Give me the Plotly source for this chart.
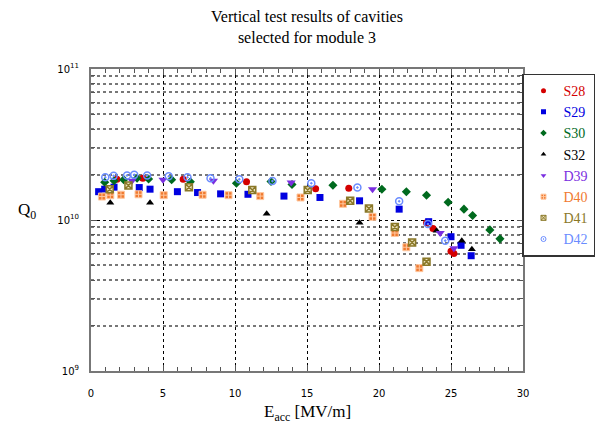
import plotly.graph_objects as go

# ---- data ----
S28_E = [1.8, 3.6, 6.4, 10.8, 15.6, 17.9, 23.3, 23.75, 25.0, 25.2]
S28_Q = [1.86e10, 1.89e10, 1.86e10, 1.79e10, 1.61e10, 1.62e10, 9.6e9, 8.8e9, 6.2e9, 6.0e9]

S29_E = [0.53, 0.95, 1.6, 3.35, 4.1, 6.0, 7.4, 9.0, 10.9, 13.4, 15.9, 18.65, 21.4, 23.45, 25.0, 25.7, 26.4]
S29_Q = [1.54e10, 1.60e10, 1.65e10, 1.64e10, 1.60e10, 1.54e10, 1.52e10, 1.49e10, 1.48e10, 1.44e10,
         1.41e10, 1.34e10, 1.18e10, 9.75e9, 7.75e9, 6.8e9, 5.8e9]

S30_E = [0.95, 1.6, 2.27, 3.2, 4.0, 5.6, 6.9, 10.1, 12.5, 13.96, 16.8, 20.2, 21.9, 23.3, 24.8, 25.9, 26.5, 27.7, 28.4]
S30_Q = [1.78e10, 1.82e10, 1.85e10, 1.89e10, 1.87e10, 1.85e10, 1.79e10, 1.75e10, 1.80e10, 1.72e10,
         1.70e10, 1.60e10, 1.54e10, 1.46e10, 1.31e10, 1.18e10, 1.07e10, 8.6e9, 7.5e9]

S32_E = [1.34, 4.1, 12.2, 18.65, 24.0, 25.75, 26.45]
S32_Q = [1.30e10, 1.30e10, 1.10e10, 9.6e9, 8.5e9, 7.3e9, 6.4e9]

D39_E = [2.85, 5.0, 8.5, 13.9, 19.55, 24.25, 25.2]
D39_Q = [1.82e10, 1.85e10, 1.82e10, 1.77e10, 1.60e10, 8.2e9, 6.5e9]

D40_E = [0.76, 1.34, 2.08, 3.3, 5.05, 7.75, 9.55, 11.75, 14.55, 17.5, 19.55, 21.1, 21.9, 22.8]
D40_Q = [1.43e10, 1.46e10, 1.47e10, 1.48e10, 1.46e10, 1.47e10, 1.46e10, 1.44e10, 1.41e10, 1.28e10,
         1.05e10, 8.2e9, 6.6e9, 4.8e9]

D41_E = [1.3, 2.6, 6.8, 11.2, 15.05, 18.0, 19.3, 21.1, 22.3, 23.3]
D41_Q = [1.60e10, 1.69e10, 1.65e10, 1.58e10, 1.58e10, 1.34e10, 1.19e10, 9.0e9, 7.1e9, 5.3e9]

D42_E = [0.99, 1.57, 2.5, 3.0, 3.9, 5.4, 6.7, 8.3, 10.3, 12.6, 15.3, 18.5, 21.4, 23.4, 24.6]
D42_Q = [1.92e10, 1.96e10, 1.97e10, 1.99e10, 1.97e10, 1.95e10, 1.92e10, 1.89e10, 1.86e10, 1.81e10,
         1.75e10, 1.64e10, 1.33e10, 9.4e9, 7.3e9]

x_ticks = [0, 5, 10, 15, 20, 25, 30]
y_major = [1e9, 1e10, 1e11]
y_major_text = ["10<sup>9</sup>", "10<sup>10</sup>", "10<sup>11</sup>"]
y_minor = [m * 10 ** e for e in (9, 10) for m in range(2, 10)]

series = [
    ("S28", S28_E, S28_Q, "#d40000", dict(symbol="circle", size=7, color="#d40000")),
    ("S29", S29_E, S29_Q, "#0000e0", dict(symbol="square", size=7, color="#0000e0")),
    ("S30", S30_E, S30_Q, "#006a1e", dict(symbol="diamond", size=7, color="#006a1e")),
    ("S32", S32_E, S32_Q, "#000000", dict(symbol="triangle-up", size=7, color="#000000")),
    ("D39", D39_E, D39_Q, "#7a2ee0", dict(symbol="triangle-down", size=8, color="#7a2ee0")),
    ("D40", D40_E, D40_Q, "#f07a30", dict(symbol="square-cross", size=7, color="#f07a30",
                                          line=dict(color="#ffc8a0", width=1))),
    ("D41", D41_E, D41_Q, "#8a7828", dict(symbol="square-x", size=7, color="#ece2bc",
                                          line=dict(color="#8a7828", width=1.5))),
    ("D42", D42_E, D42_Q, "#6a8cff", dict(symbol="circle-open-dot", size=7, color="#6a8cff",
                                          line=dict(width=1.5))),
]

fig = go.Figure()
for name, xs, ys, col, mk in series:
    fig.add_trace(go.Scatter(x=xs, y=ys, mode="markers", marker=mk, name=name,
                             showlegend=False))
# legend entries with the small legend symbols of the reference
for name, xs, ys, col, mk in series:
    lmk = dict(mk)
    lmk["size"] = 5
    if "line" in lmk:
        lmk["line"] = dict(lmk["line"], width=1)
    fig.add_trace(go.Scatter(x=[None], y=[None], mode="markers", marker=lmk,
                             name=f"<span style='color:{col}'>{name}</span>",
                             showlegend=True, hoverinfo="skip"))

serif = "Liberation Serif"
W, H = 588, 423          # page body has an 8px margin on each side
L, T, PW, PH = 83, 61, 432, 302
fig.update_layout(
    width=W, height=H,
    margin=dict(l=L, r=W - L - PW, t=T, b=H - T - PH, autoexpand=False),
    paper_bgcolor="white", plot_bgcolor="white",
    showlegend=True,
    legend=dict(
        x=(W - L - 1) / PW, y=0.985, xanchor="right", yanchor="top",
        bordercolor="#333333", borderwidth=1.5, bgcolor="white",
        font=dict(family=serif, size=14, color="black"),
        itemwidth=30, tracegroupgap=0,
    ),
    xaxis=dict(
        range=[0, 30], tickvals=x_ticks, ticks="inside", ticklen=6, tickcolor="#555",
        showgrid=True, gridcolor="black", griddash="dot", gridwidth=1,
        showline=True, linecolor="#777", linewidth=2, mirror="allticks",
        zeroline=False, ticklabelstandoff=12,
        tickfont=dict(family="DejaVu Sans", size=10, color="black"),
        minor=dict(dtick=1, ticks="inside", ticklen=4, tickcolor="#555", showgrid=False),
    ),
    yaxis=dict(
        type="log", range=[9, 11], tickvals=y_major, ticktext=y_major_text,
        ticks="inside", ticklen=6, tickcolor="#555",
        showgrid=True, gridcolor="black", griddash="dot", gridwidth=1,
        showline=True, linecolor="#777", linewidth=2, mirror="allticks",
        zeroline=False, ticklabelstandoff=8,
        tickfont=dict(family="DejaVu Sans", size=10, color="black"),
        minor=dict(tickvals=y_minor, ticks="inside", ticklen=4, tickcolor="#555",
                   showgrid=True, gridcolor="#777", griddash="dot", gridwidth=1.5),
    ),
    annotations=[
        dict(text="Vertical test results of cavities<br>selected for module 3",
             xref="paper", yref="paper", x=0.5, y=1.21, xanchor="center", yanchor="top",
             showarrow=False, font=dict(family=serif, size=16, color="black")),
        dict(text="Q<sub>0</sub>", xref="paper", yref="paper", x=-0.148, y=0.53,
             xanchor="center", yanchor="middle", showarrow=False,
             font=dict(family=serif, size=17, color="black")),
        dict(text="E<sub>acc</sub> [MV/m]", xref="paper", yref="paper", x=0.5, y=-0.095,
             xanchor="center", yanchor="top", showarrow=False,
             font=dict(family=serif, size=17, color="black")),
    ],
)

fig.write_html("out.html")
